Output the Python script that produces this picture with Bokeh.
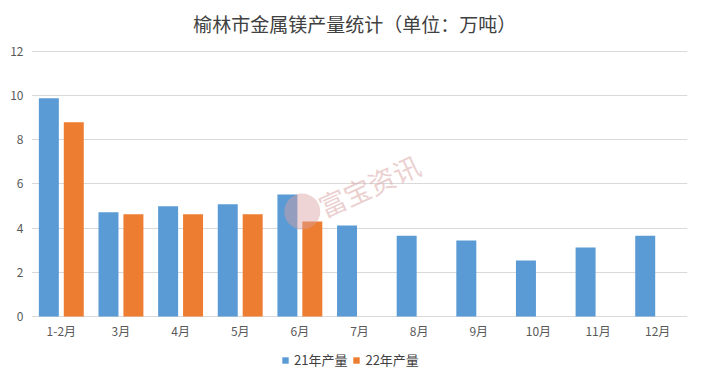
from bokeh.plotting import figure
from bokeh.models import FactorRange, ColumnDataSource, Legend, LegendItem, Label
from bokeh.core.properties import value
from bokeh.transform import dodge
from bokeh.embed import file_html
from bokeh.resources import INLINE

title_text = "榆林市金属镁产量统计（单位：万吨）"
months = ["1-2月", "3月", "4月", "5月", "6月", "7月", "8月", "9月", "10月", "11月", "12月"]
prod_21 = [9.88, 4.72, 4.99, 5.08, 5.52, 4.12, 3.66, 3.44, 2.53, 3.12, 3.66]
months_22 = ["1-2月", "3月", "4月", "5月", "6月"]
prod_22 = [8.79, 4.63, 4.63, 4.63, 4.30]
y_ticks = [0, 2, 4, 6, 8, 10, 12]

FONT = "Noto Sans CJK SC"
BLUE = "#5B9BD5"
ORANGE = "#ED7D31"

# frame extended above and below the value axis to host the title, category labels and legend
p = figure(x_range=FactorRange(*months, range_padding=0), y_range=(-2.63, 14.31),
           width=690, height=374, output_backend="svg", toolbar_location=None,
           min_border_left=31, min_border_right=3, min_border_top=0, min_border_bottom=0)

src21 = ColumnDataSource(dict(m=months, v=prod_21))
src22 = ColumnDataSource(dict(m=months_22, v=prod_22))
r21 = p.vbar(x=dodge("m", -0.209, range=p.x_range), top="v", width=0.335, source=src21,
             fill_color=BLUE, line_color=None)
r22 = p.vbar(x=dodge("m", 0.209, range=p.x_range), top="v", width=0.335, source=src22,
             fill_color=ORANGE, line_color=None)

# category labels under the zero line
lab_src = ColumnDataSource(dict(m=months, y=[0] * len(months)))
p.text(x="m", y="y", text="m", source=lab_src, y_offset=14, text_align="center",
       text_baseline="middle", text_font=value(FONT), text_font_size="12px",
       text_color="#595959")

# title
p.add_layout(Label(x=5.42, y=13.27, text=title_text, text_align="center",
                   text_baseline="middle", text_font=FONT, text_font_size="19px",
                   text_color="#404040"))

# watermark
p.scatter(x=[4.54], y=[4.75], size=36, marker="circle", fill_color="#d9a0a0",
          fill_alpha=0.45, line_color=None)
p.add_layout(Label(x=5.66, y=5.93, text="富宝资讯", angle=24.5, angle_units="deg",
                   text_align="center", text_baseline="middle", text_font=FONT,
                   text_font_size="27px", text_color="#dba8a8", text_alpha=0.55))

p.xaxis.visible = False
p.xgrid.grid_line_color = None
p.ygrid.grid_line_color = "#d9d9d9"
p.yaxis.ticker = y_ticks
p.yaxis.axis_line_color = None
p.yaxis.major_tick_line_color = None
p.yaxis.minor_tick_line_color = None
p.yaxis.major_tick_out = 0
p.yaxis.minor_tick_out = 0
p.yaxis.major_label_standoff = 8
p.yaxis.major_label_text_font = FONT
p.yaxis.major_label_text_font_size = "12px"
p.yaxis.major_label_text_color = "#595959"
p.outline_line_color = None

legend = Legend(items=[LegendItem(label="21年产量", renderers=[r21]),
                       LegendItem(label="22年产量", renderers=[r22])],
                orientation="horizontal", location=(250, 5),
                glyph_width=8, glyph_height=8, label_standoff=5, spacing=5,
                label_text_font=FONT, label_text_font_size="13px", label_text_color="#404040",
                border_line_color=None, background_fill_alpha=0, margin=0, padding=4)
p.add_layout(legend, "center")

open("out.html", "w").write(file_html(p, INLINE))
